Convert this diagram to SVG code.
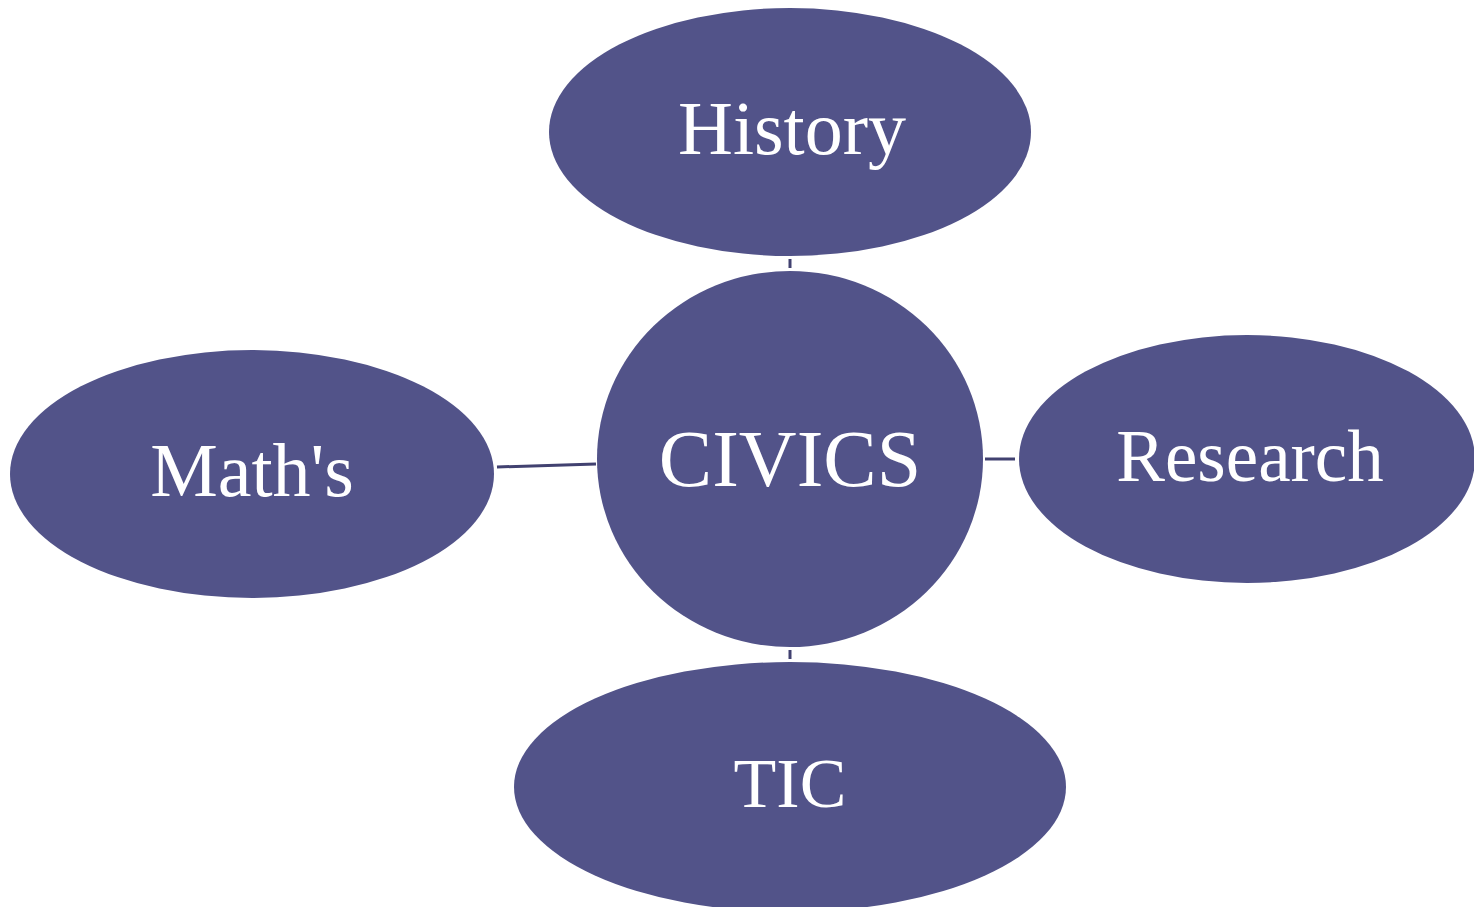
<svg xmlns="http://www.w3.org/2000/svg" width="1474" height="907" viewBox="0 0 1474 907">
<style>
.n{fill:#525389;}
.t{fill:#ffffff;font-family:"Liberation Serif","DejaVu Serif",serif;text-anchor:middle;}
.c{stroke:#414170;stroke-width:3;fill:none;}
</style>
<rect width="1474" height="907" fill="#ffffff"/>
<g id="connectors">
<line class="c" x1="790" y1="259" x2="790" y2="268"/>
<line class="c" x1="497" y1="467" x2="596" y2="464"/>
<line class="c" x1="985" y1="459" x2="1015" y2="459"/>
<line class="c" x1="790" y1="650" x2="790" y2="659"/>
</g>
<g id="history"><ellipse class="n" cx="790" cy="132" rx="241" ry="124"/><text class="t" x="792" y="154" font-size="76">History</text></g>
<g id="civics"><ellipse class="n" cx="790" cy="459" rx="193" ry="188"/><text class="t" x="790" y="486" font-size="80">CIVICS</text></g>
<g id="research"><ellipse class="n" cx="1247" cy="459" rx="228" ry="124"/><text class="t" x="1250" y="481" font-size="73">Research</text></g>
<g id="maths"><ellipse class="n" cx="252" cy="474" rx="242" ry="124"/><text class="t" x="252" y="496" font-size="76">Math's</text></g>
<g id="tic"><ellipse class="n" cx="790" cy="787" rx="276" ry="125"/><text class="t" x="790" y="807" font-size="70">TIC</text></g>
</svg>
